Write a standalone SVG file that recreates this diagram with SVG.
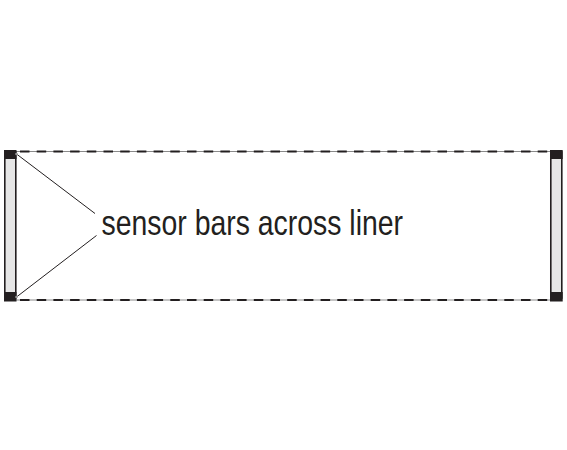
<svg xmlns="http://www.w3.org/2000/svg" width="567" height="450" viewBox="0 0 567 450">
<style>
.base{stroke:#8a8a8a;stroke-width:1;fill:none}
.dash{stroke:#231f20;stroke-width:2.2;stroke-dasharray:9.5 7.2;fill:none}
.bar{fill:#e6e6e6;stroke:#231f20;stroke-width:1.6}
.cap{fill:#231f20}
.lead{stroke:#231f20;stroke-width:1;fill:none}
.lbl{font-family:"Liberation Sans",Arial,sans-serif;font-size:35px;fill:#231f20}
</style>
<rect width="567" height="450" fill="#fff"/>
<g id="connectors">
<line class="base" x1="16" y1="151.5" x2="550" y2="151.5"/>
<line class="dash" x1="20" y1="151.5" x2="550" y2="151.5"/>
<line class="base" x1="16" y1="300" x2="550" y2="300"/>
<line class="dash" x1="20" y1="300" x2="550" y2="300"/>
<line class="lead" x1="16.5" y1="154" x2="95" y2="213.5"/>
<line class="lead" x1="16.5" y1="297" x2="96.5" y2="235.5"/>
</g>
<g id="left-bar">
<rect class="bar" x="4.8" y="152" width="11" height="146"/>
<rect class="cap" x="4" y="150" width="12.5" height="9"/>
<rect class="cap" x="4" y="292" width="12.5" height="9.5"/>
<circle cx="16.5" cy="154" r="1.3" fill="#9a9a9a"/>
<circle cx="16.5" cy="297" r="1.3" fill="#9a9a9a"/>
</g>
<g id="right-bar">
<rect class="bar" x="550.8" y="152" width="11" height="146"/>
<rect class="cap" x="550" y="150" width="12.7" height="9"/>
<rect class="cap" x="550" y="292" width="12.7" height="9.5"/>
</g>
<g id="label">
<text class="lbl" x="101.5" y="234.5" textLength="301.5" lengthAdjust="spacingAndGlyphs">sensor bars across liner</text>
</g>
</svg>
